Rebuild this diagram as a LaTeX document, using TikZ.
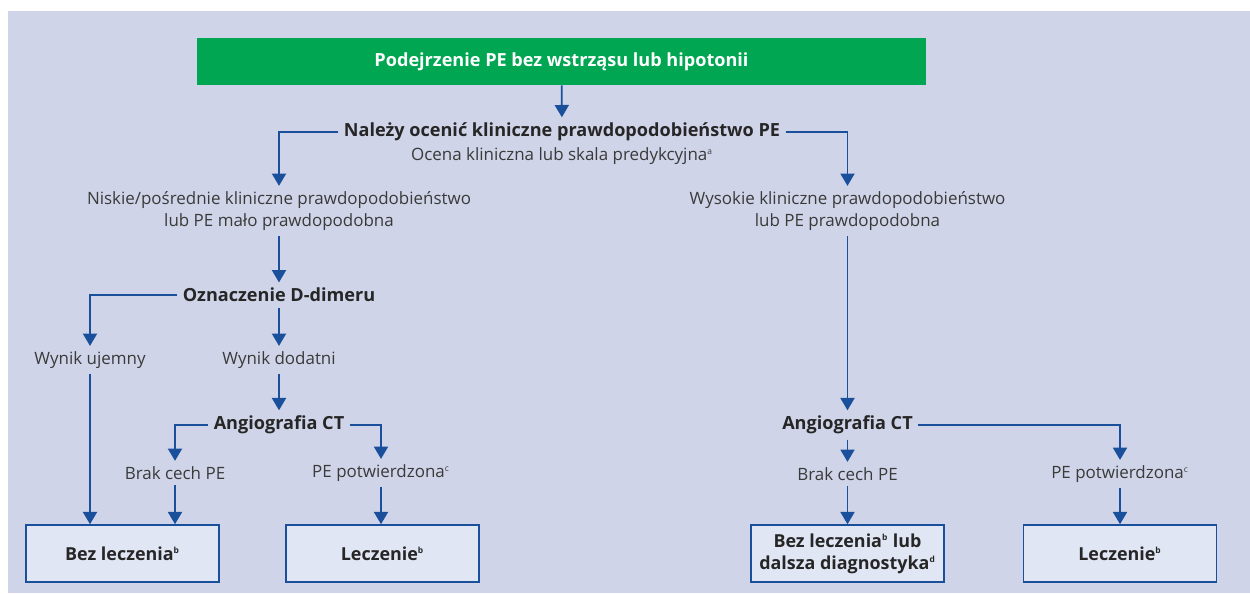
\documentclass[tikz,border=0pt]{standalone}
\usepackage{fontspec}
\setmainfont{Open Sans}
\usetikzlibrary{arrows.meta}
\definecolor{mybgcolor}{HTML}{CFD4E8}
\definecolor{mygreencolor}{HTML}{00A651}
\definecolor{myboxcolor}{HTML}{E1E6F5}
\definecolor{mylinecolor}{HTML}{1A4F9C}
\definecolor{mytextcolor}{HTML}{3A3A3A}
\newcommand{\fnote}[1]{\textsuperscript{\fontsize{4.8pt}{4.8pt}\selectfont #1}}
\tikzset{
  txt/.style={text=mytextcolor, inner sep=3pt, align=center, font=\fontsize{9.65pt}{12.5pt}\selectfont},
  btxt/.style={txt, text=black!85, font=\fontsize{10.3pt}{12.5pt}\selectfont\bfseries},
  startbox/.style={fill=mygreencolor, text=white, minimum width=14.58cm, minimum height=0.94cm, font=\fontsize{10.3pt}{12pt}\selectfont\bfseries},
  endbox/.style={draw=mylinecolor, fill=myboxcolor, line width=0.9pt, minimum width=3.86cm, minimum height=1.14cm, align=center, text=black!85, font=\fontsize{10.2pt}{12.5pt}\selectfont\bfseries},
  arr/.style={draw=mylinecolor, line width=1pt, -{Triangle[width=8pt,length=7pt]}},
}

\begin{document}
\begin{tikzpicture}[x=0.02cm, y=-0.02cm]%
\useasboundingbox (0,0) rectangle (1250,593);%
\fill[mybgcolor] (8,11) rectangle (1250,593);%
% top
\node[startbox] (start) at (561.5,61.5) {Podejrzenie PE bez wstrząsu lub hipotonii};%
\node[btxt] (assess) at (562,132) {Należy ocenić kliniczne prawdopodobieństwo PE};%
\node[txt] (score) at (562,156) {Ocena kliniczna lub skala predykcyjna\fnote{a}};%
\node[txt] (low) at (279,211) {Niskie/pośrednie kliniczne prawdopodobieństwo\\lub PE mało prawdopodobna};%
\node[txt] (high) at (847.5,211) {Wysokie kliniczne prawdopodobieństwo\\lub PE prawdopodobna};%
% left branch
\node[btxt] (ddim) at (279,295) {Oznaczenie D-dimeru};%
\node[txt] (neg) at (90,360) {Wynik ujemny};%
\node[txt] (pos) at (279,360) {Wynik dodatni};%
\node[btxt] (ctleft) at (279,425) {Angiografia CT};%
\node[txt] (nopeleft) at (175,473) {Brak cech PE};%
\node[txt] (peleft) at (381,473) {PE potwierdzona\fnote{c}};%
\node[endbox] (notreatleft) at (122.5,553.5) {Bez leczenia\fnote{b}};%
\node[endbox] (treatleft) at (382.5,553.5) {Leczenie\fnote{b}};%
% right branch
\node[btxt] (ctright) at (847.5,425) {Angiografia CT};%
\node[txt] (noperight) at (847.5,474) {Brak cech PE};%
\node[txt] (peright) at (1120,474) {PE potwierdzona\fnote{c}};%
\node[endbox] (notreatright) at (847.5,553.5) {Bez leczenia\fnote{b} lub\\dalsza diagnostyka\fnote{d}};%
\node[endbox] (treatright) at (1120,553.5) {Leczenie\fnote{b}};%
% arrows
\draw[arr] (start) -- (assess);%
\draw[arr] (assess.west) -| (low.north);%
\draw[arr] (assess.east) -| (high.north);%
\draw[arr] (low) -- (ddim);%
\draw[arr] (ddim.west) -| (neg.north);%
\draw[arr] (ddim) -- (pos);%
\draw[arr] (pos) -- (ctleft);%
\draw[arr] (ctleft.west) -| (nopeleft.north);%
\draw[arr] (ctleft.east) -| (peleft.north);%
\draw[arr] (neg.south) -- (neg.south |- notreatleft.north);%
\draw[arr] (nopeleft.south) -- (nopeleft.south |- notreatleft.north);%
\draw[arr] (peleft.south) -- (peleft.south |- treatleft.north);%
\draw[arr] (high) -- (ctright);%
\draw[arr] (ctright) -- (noperight);%
\draw[arr] (ctright.east) -| (peright.north);%
\draw[arr] (noperight) -- (notreatright);%
\draw[arr] (peright.south) -- (peright.south |- treatright.north);%
\end{tikzpicture}
\end{document}
